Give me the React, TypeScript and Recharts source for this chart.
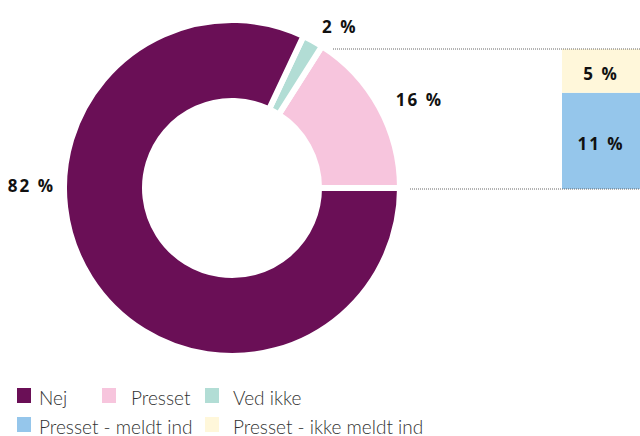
import { PieChart, Pie, Cell, Legend, BarChart, Bar, XAxis, YAxis, ReferenceLine, LabelList } from "recharts"

// donut: answers
const pieNames = ["Presset", "Ved ikke", "Nej"]
const pieValues = [16, 2, 82]
const pieColors = ["#f7c5dd", "#b2ddd5", "#6a0f56"]

// breakdown of "Presset"
const splitNames = ["Presset - meldt ind", "Presset - ikke meldt ind"]
const splitValues = [11, 5]
const splitColors = ["#95c6eb", "#fff7da"]

const legendNames = ["Nej", "Presset", "Ved ikke", "Presset - meldt ind", "Presset - ikke meldt ind"]

const pieData = pieNames.map((name, i) => ({ name, value: pieValues[i] }))
const splitData = [{ name: "Presset", meldt: splitValues[0], ikke: splitValues[1] }]

const colorOf = (name: string) => {
  const p = pieNames.indexOf(name)
  if (p >= 0) return pieColors[p]
  return splitColors[splitNames.indexOf(name)]
}

// legend layout
const legendWidths: (number | string)[] = [85, 103, "auto", 188, "auto"]
const legendGaps = [8, 15, 14, 8, 14]

const RAD = Math.PI / 180
const labelFont = { fontFamily: "'Open Sans', sans-serif", fontWeight: 700, fontSize: 17, letterSpacing: 2, fill: "#111" }

const renderPieLabel = (p: any) => {
  const { cx, cy, midAngle, outerRadius, percent, value } = p
  const left = percent > 0.5
  const angle = left ? 180 : midAngle
  const r = outerRadius + (left ? 9 : 19)
  const x = cx + r * Math.cos(angle * RAD)
  const y = cy - r * Math.sin(angle * RAD)
  return (
    <text x={x} y={y} dy={left ? -3 : 2} textAnchor={left ? "end" : "start"} dominantBaseline="central" style={labelFont}>
      {value} %
    </text>
  )
}

const renderLegend = () => (
  <div style={{ display: "flex", flexWrap: "wrap", width: 430 }}>
    {legendNames.map((n, i) => (
      <div key={n} style={{ display: "flex", alignItems: "center", width: legendWidths[i], height: 29 }}>
        <span style={{ display: "inline-block", width: 14, height: 15, background: colorOf(n), marginRight: legendGaps[i] }} />
        <span
          style={{
            fontFamily: "Lato, sans-serif",
            fontWeight: 300,
            fontSize: 19,
            lineHeight: "19px",
            color: "#333",
            position: "relative",
            top: 1.5,
          }}
        >
          {n}
        </span>
      </div>
    ))}
  </div>
)

export default function App() {
  return (
    <div style={{ position: "absolute", left: 0, top: 0, width: 640, height: 436 }}>
      <div style={{ position: "absolute", left: 0, top: 0 }}>
        <PieChart width={640} height={436} margin={{ top: 0, right: 0, bottom: 0, left: 0 }}>
          <Pie
            data={pieData}
            dataKey="value"
            nameKey="name"
            cx={232}
            cy={188}
            innerRadius={87}
            outerRadius={168}
            startAngle={0}
            endAngle={360}
            label={renderPieLabel}
            labelLine={false}
            isAnimationActive={false}
          >
            {pieData.map((d, i) => (
              <Cell key={d.name} fill={pieColors[i]} stroke="#fff" strokeWidth={6} />
            ))}
          </Pie>
          <Legend content={renderLegend} wrapperStyle={{ left: 17, top: 381, width: 430 }} />
        </PieChart>
      </div>
      <div style={{ position: "absolute", left: 333, top: 0 }}>
        <BarChart width={307} height={200} data={splitData} margin={{ top: 49, right: 0, bottom: 11, left: 0 }} barCategoryGap={0}>
          <XAxis dataKey="name" hide padding={{ left: 229, right: 0 }} />
          <YAxis hide domain={[0, 16]} />
          <ReferenceLine y={16} stroke="#666" strokeDasharray="1 1" />
          <ReferenceLine
            y={0}
            stroke="#666"
            strokeDasharray="1 1"
            shape={(p: any) => (
              <line x1={Math.min(p.x1, p.x2) + 77} x2={Math.max(p.x1, p.x2)} y1={p.y1} y2={p.y2} stroke="#666" strokeDasharray="1 1" />
            )}
          />
          <Bar dataKey="meldt" stackId="s" fill={splitColors[0]} isAnimationActive={false}>
            <LabelList dataKey="meldt" position="center" formatter={(v: any) => `${v} %`} dy={3} style={labelFont} />
          </Bar>
          <Bar dataKey="ikke" stackId="s" fill={splitColors[1]} isAnimationActive={false}>
            <LabelList dataKey="ikke" position="center" formatter={(v: any) => `${v} %`} dy={3} style={labelFont} />
          </Bar>
        </BarChart>
      </div>
    </div>
  )
}
